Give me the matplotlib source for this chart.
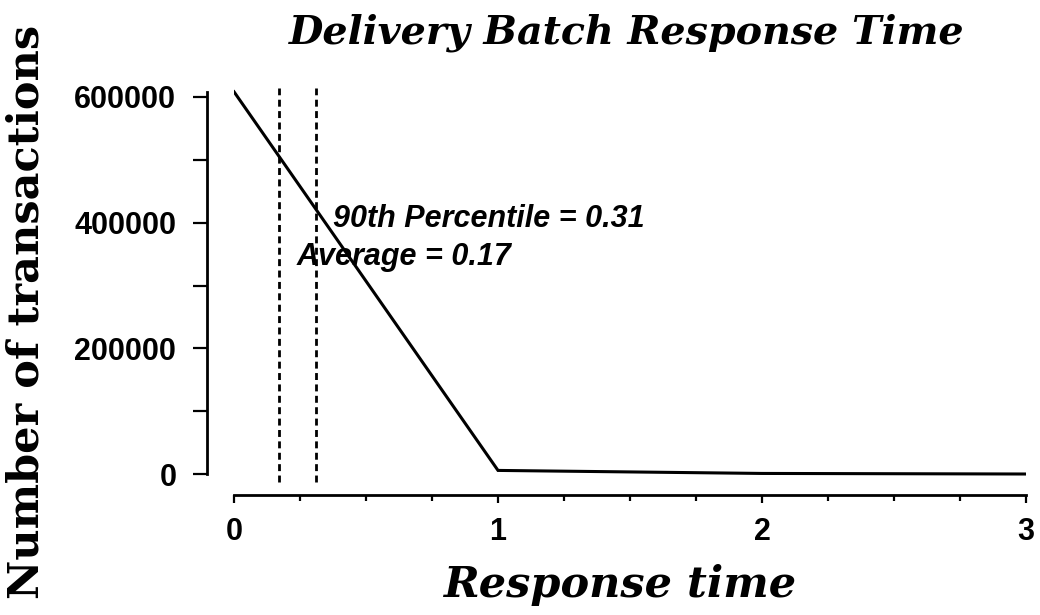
import matplotlib.pyplot as plt
from matplotlib.ticker import MultipleLocator

# response time buckets and counts
resp_time = [0, 1, 2, 3]
n_trans = [608000, 6000, 1200, 300]

avg_rt = 0.17
pct90_rt = 0.31

title = 'Delivery Batch Response Time'
xlabel = 'Response time'
ylabel = 'Number of transactions'

plt.rcParams['font.family'] = ['Liberation Sans', 'DejaVu Sans']

fig = plt.figure(figsize=(10.4, 6.15), dpi=100)
ax = fig.add_axes([234/1040, 1 - 483/615, (1026 - 234)/1040, (483 - 88)/615])

ax.plot(resp_time, n_trans, color='black', lw=2.2, solid_joinstyle='miter')

# average / 90th percentile markers
for v in (avg_rt, pct90_rt):
    ax.plot([v, v], [-12500, 614000], color='black', lw=2, dashes=(2.5, 1.6))

ax.set_xlim(0, 3)
ax.set_ylim(-14000, 614000)

for s in ('top', 'right'):
    ax.spines[s].set_visible(False)
ax.spines['left'].set_position(('outward', 19.5))
ax.spines['bottom'].set_position(('outward', 8.6))
ax.spines['left'].set_bounds(0, 608000)
ax.spines['bottom'].set_bounds(0, 3)
ax.spines['left'].set_linewidth(2)
ax.spines['bottom'].set_linewidth(2)

ax.set_yticks([0, 200000, 400000, 600000])
ax.yaxis.set_minor_locator(MultipleLocator(100000))
ax.set_xticks([0, 1, 2, 3])
ax.xaxis.set_minor_locator(MultipleLocator(0.25))

ax.tick_params(axis='y', which='both', direction='out', length=10, width=1.6,
               pad=12, labelsize=22)
ax.tick_params(axis='x', which='major', direction='out', length=6, width=1.6,
               pad=10, labelsize=22)
ax.tick_params(axis='x', which='minor', direction='out', length=4, width=1.6)
for lab in ax.get_xticklabels() + ax.get_yticklabels():
    lab.set_fontweight('bold')

ax.text(0.375, 405000, '90th Percentile = %.2f' % pct90_rt, fontsize=22,
        fontweight='bold', fontstyle='italic', va='center', ha='left')
ax.text(0.239, 345000, 'Average = %.2f' % avg_rt, fontsize=22,
        fontweight='bold', fontstyle='italic', va='center', ha='left')

fig.text(627/1040, 1 - 33/615, title, fontsize=28.5, fontweight='bold',
         fontstyle='italic', family='DejaVu Serif', ha='center', va='center')
fig.text(620/1040, 1 - 585/615, xlabel, fontsize=31, fontweight='bold',
         fontstyle='italic', family='DejaVu Serif', ha='center', va='center')
fig.text(27/1040, 1 - 312/615, ylabel, fontsize=31, fontweight='bold',
         family='DejaVu Serif', rotation=90, ha='center', va='center')

fig.savefig('out.png', dpi=100)
